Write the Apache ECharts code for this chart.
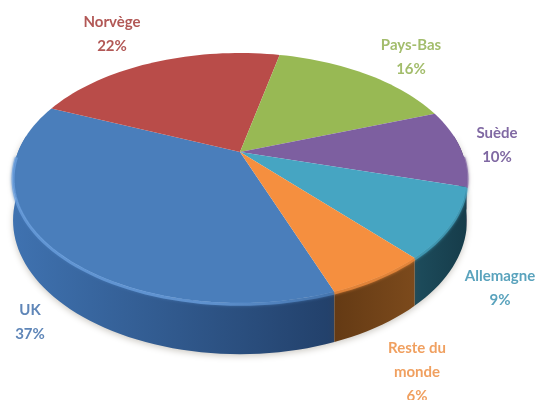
<!DOCTYPE html>
<html>
<head>
<meta charset="utf-8">
<style>
html,body{margin:0;padding:0;background:#fff;}
#chart{width:538px;height:400px;}
</style>
<script src="https://cdn.jsdelivr.net/npm/echarts@6/dist/echarts.min.js"></script>
</head>
<body>
<div id="chart"></div>
<script>
// données
var categories = ['UK', 'Norvège', 'Pays-Bas', 'Suède', 'Allemagne', 'Reste du\nmonde'];
var values = [37, 22, 16, 10, 9, 6];
// couleurs
var topColors = ['#4a7ebb', '#b94c49', '#98b954', '#7d5fa0', '#46a5c2', '#f58f3f'];
var sideLeft = ['#3f72b0', '#8a3836', '#6f8a3c', '#4a3566', '#1d4c5c', '#643a14'];
var sideRight = ['#22406a', '#6a2a28', '#55692e', '#33254a', '#163c4a', '#7c4a1c'];
var rimColors = ['#6ea3e2', '#b94c49', '#98b954', '#7d5fa0', '#46a5c2', '#f58f3f'];
var labelColors = ['#5f86b8', '#b25856', '#a3bd6c', '#8069a3', '#5aa3bd', '#f0a060'];
// position des étiquettes
var labelX = [30, 112, 411, 497, 500, 417];
var labelY = [322, 34, 57, 145, 288, 372];

// géométrie du disque en perspective
var cx = 240, cy = 152, rx = 222, ry = 119.6, persp = 0.208, depth = 40.5;
var startAngle = 70;

var total = 0;
for (var i = 0; i < values.length; i++) { total += values[i]; }
var bounds = [startAngle];
for (var i = 0; i < values.length; i++) {
    bounds.push(bounds[i] + values[i] / total * 360);
}

// point du cercle -> écran
function project(deg, drop) {
    var a = deg * Math.PI / 180;
    var X = Math.cos(a), Y = Math.sin(a);
    var s = 1 / (1 - persp * Y);
    return [cx + rx * X * s, cy + ry * Y * s + (drop || 0) * s];
}
function arcPoints(a0, a1, drop) {
    var pts = [];
    var n = Math.max(2, Math.ceil(Math.abs(a1 - a0) / 2));
    for (var i = 0; i <= n; i++) {
        pts.push(project(a0 + (a1 - a0) * i / n, drop));
    }
    return pts;
}
// partie visible du bord (devant le disque)
function visibleRange(a0, a1, from, to) {
    var list = [];
    for (var k = -1; k <= 1; k++) {
        var s = Math.max(a0, from + k * 360), e = Math.min(a1, to + k * 360);
        if (e > s) { list.push([s, e]); }
    }
    return list;
}

function renderSide(params, api) {
    var i = params.dataIndex;
    var children = [];
    visibleRange(bounds[i], bounds[i + 1], -8, 188).forEach(function (r) {
        var upper = arcPoints(r[0], r[1], 0);
        var lower = arcPoints(r[0], r[1], depth).reverse();
        var xs = upper.map(function (p) { return p[0]; });
        var minX = Math.min.apply(null, xs), maxX = Math.max.apply(null, xs);
        children.push({
            type: 'polygon',
            shape: { points: upper.concat(lower) },
            style: {
                fill: new echarts.graphic.LinearGradient(minX, 0, maxX, 0, [
                    { offset: 0, color: sideLeft[i] },
                    { offset: 1, color: sideRight[i] }
                ], true),
                shadowBlur: 6,
                shadowColor: 'rgba(90,80,60,0.3)',
                shadowOffsetY: 2
            }
        });
    });
    return { type: 'group', children: children };
}

function renderTop(params, api) {
    var i = params.dataIndex;
    var pts = [[cx, cy]].concat(arcPoints(bounds[i], bounds[i + 1], 0));
    var children = [{
        type: 'polygon',
        shape: { points: pts },
        style: { fill: topColors[i] }
    }];
    visibleRange(bounds[i], bounds[i + 1], 2, 178).forEach(function (r) {
        var line = arcPoints(r[0], r[1], 1);
        var xs = line.map(function (p) { return p[0]; });
        var minX = Math.min.apply(null, xs), maxX = Math.max.apply(null, xs);
        children.push({
            type: 'polyline',
            shape: { points: line },
            style: {
                fill: null,
                stroke: new echarts.graphic.LinearGradient(minX, 0, maxX, 0, [
                    { offset: 0, color: rimColors[i] },
                    { offset: 0.6, color: rimColors[i] },
                    { offset: 1, color: topColors[i] }
                ], true),
                lineWidth: 3,
                opacity: 0.7,
                shadowBlur: 3,
                shadowColor: topColors[i]
            }
        });
    });
    return { type: 'group', children: children };
}

function renderLabel(params, api) {
    var i = params.dataIndex;
    return {
        type: 'text',
        style: {
            x: labelX[i],
            y: labelY[i],
            text: categories[i] + '\n' + values[i] + '%',
            fill: labelColors[i],
            font: 'bold 15px Lato',
            lineHeight: 24,
            align: 'center',
            verticalAlign: 'middle'
        }
    };
}

var myChart = echarts.init(document.getElementById('chart'));
var option = {
    animation: false,
    backgroundColor: '#ffffff',
    series: [
        { type: 'custom', coordinateSystem: 'none', silent: true, z: 1, renderItem: renderSide, data: values },
        { type: 'custom', coordinateSystem: 'none', silent: true, z: 2, renderItem: renderTop, data: values },
        { type: 'custom', coordinateSystem: 'none', silent: true, z: 3, renderItem: renderLabel, data: values }
    ]
};
myChart.setOption(option);
</script>
</body>
</html>
